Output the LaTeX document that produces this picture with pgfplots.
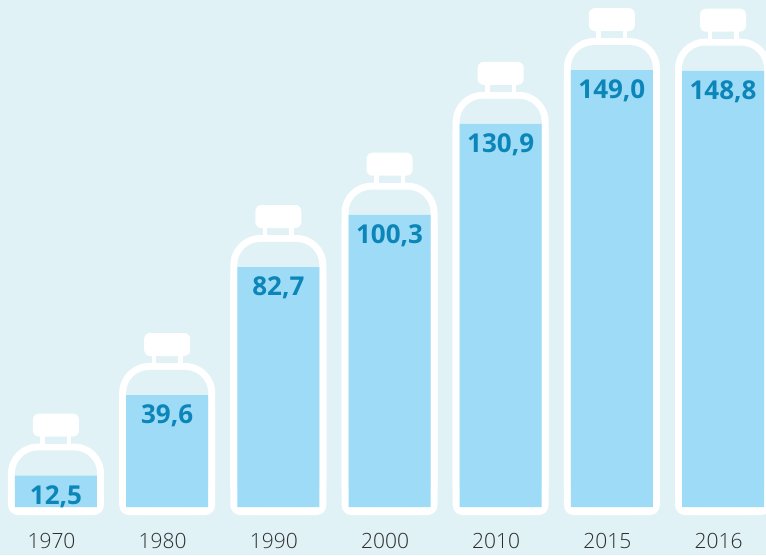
\documentclass[border=0pt]{standalone}
\usepackage{fontspec}
\setmainfont{Open Sans}
\newfontfamily\valfont{Open Sans}[UprightFont=* Bold]
\newfontfamily\yearfont{Open Sans}[UprightFont=* Light]
\usepackage{pgfplots}
\pgfplotsset{compat=1.18}
\usepackage{pgfplotstable}
\definecolor{bgc}{RGB}{224,242,245}
\definecolor{liq}{RGB}{158,219,246}
\definecolor{valc}{RGB}{12,133,185}
\definecolor{yearc}{RGB}{45,45,45}

\pgfplotstableread{
x v lab
0 12.5 12,5
1 39.6 39,6
2 82.7 82,7
3 100.3 100,3
4 130.9 130,9
5 149.0 149,0
6 148.8 148,8
}\bottles

\pgfdeclareplotmark{bcap}{%
  \pgfsetcornersarced{\pgfpointorigin}%
  \pgfpathrectanglecorners{\pgfpoint{-15.5pt}{-3pt}}{\pgfpoint{15.5pt}{8pt}}%
  \pgfsetfillcolor{white}\pgfusepath{fill}%
  \pgfpathrectanglecorners{\pgfpoint{-11pt}{0pt}}{\pgfpoint{11pt}{8pt}}%
  \pgfsetfillcolor{bgc}\pgfusepath{fill}%
  \pgfsetcornersarced{\pgfpoint{6pt}{6pt}}%
  \pgfpathmoveto{\pgfpoint{0pt}{7pt}}%
  \pgfpathlineto{\pgfpoint{-23pt}{7pt}}%
  \pgfpathlineto{\pgfpoint{-23pt}{30pt}}%
  \pgfpathlineto{\pgfpoint{23pt}{30pt}}%
  \pgfpathlineto{\pgfpoint{23pt}{7pt}}%
  \pgfpathclose
  \pgfsetfillcolor{white}\pgfusepath{fill}%
  \pgfsetcornersarced{\pgfpointorigin}%
}

\begin{document}
\begin{tikzpicture}
\begin{axis}[
  at={(0pt,0pt)}, anchor=south west,
  scale only axis, width=766pt, height=555pt,
  xmin=-0.5037, xmax=6.3866, ymin=-13.468, ymax=173.401,
  axis background/.style={fill=bgc},
  axis line style={draw=none},
  major tick length=0pt,
  ytick=\empty,
  xtick={0,...,6},
  xticklabels={1970,1980,1990,2000,2010,2015,2016},
  xticklabel style={anchor=base, yshift=7pt, xshift=-4.5pt,
    font=\yearfont\fontsize{21}{24}\selectfont, text=yearc},
]
\addplot[ybar, bar width=96pt, bar shift=0pt, fill=white, draw=none, rounded corners=30pt]
  table[x=x, y expr=\thisrow{v}+11.6] {\bottles};
\addplot[ybar, bar width=96pt, bar shift=0pt, fill=white, draw=none, rounded corners=10pt]
  table[x=x, y expr=\thisrow{v}+1.5] {\bottles};
\addplot[only marks, mark=bcap]
  table[x=x, y expr=\thisrow{v}+11.6] {\bottles};
\end{axis}
\begin{axis}[
  at={(0pt,555pt)}, anchor=north west,
  scale only axis, width=766pt, height=507pt,
  xmin=-0.5037, xmax=6.3866, ymin=1.8855, ymax=172.593,
  hide axis,
]
\addplot[ybar, bar width=82pt, bar shift=0pt, fill=bgc, draw=none, rounded corners=23pt]
  table[x=x, y expr=\thisrow{v}+8.45] {\bottles};
\addplot[ybar, bar width=82pt, bar shift=0pt, fill=liq, draw=none,
  nodes near coords, point meta=explicit symbolic,
  nodes near coords style={anchor=base, yshift=-28.5pt,
    font=\valfont\fontsize{26}{30}\selectfont, text=valc}]
  table[x=x, y=v, meta=lab] {\bottles};
\end{axis}
\end{tikzpicture}
\end{document}
